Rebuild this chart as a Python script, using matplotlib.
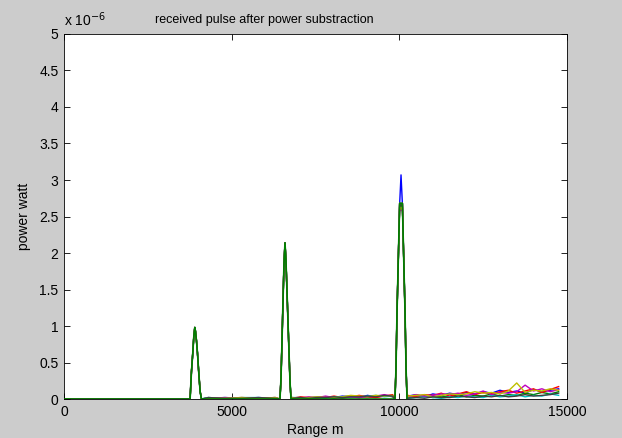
import matplotlib
matplotlib.use("Agg")
import matplotlib.pyplot as plt
from matplotlib.ticker import FormatStrFormatter

plt.rcParams['font.family'] = ['Liberation Sans', 'DejaVu Sans']

# sample positions (m) and power values (x 1e-6 W)
pulse1_x = [3760, 3800, 3840, 3870, 3900, 3920, 3950, 3980, 4020, 4060, 4100]
pulse1_p = [0, 0.37, 0.63, 0.85, 0.98, 0.93, 0.80, 0.63, 0.35, 0.10, 0]

pulse2_x = [6440, 6470, 6500, 6530, 6560, 6590, 6620, 6650, 6680, 6710, 6740, 6770]
pulse2_p = [0, 0.27, 0.78, 1.33, 1.85, 2.14, 1.88, 1.47, 1.05, 0.64, 0.23, 0]

pulse3_x = [9870, 9900, 9930, 9970, 10010, 10050, 10090, 10130, 10170, 10200, 10230]
pulse3_p = [0, 0.42, 1.18, 1.93, 2.68, 2.68, 2.68, 1.93, 1.18, 0.42, 0]
pulse3_peak = [3.07, 2.68, 2.60, 2.62, 2.58, 2.60, 2.64]  # per series

floor_x = [4300, 4800, 5300, 5800, 6300]
noise_a_x = [6800, 7050, 7300, 7550, 7800, 8050, 8300, 8550, 8800, 9050, 9300, 9550, 9800]
noise_b_x = [10250, 10500, 10750, 11000, 11250, 11500, 11750, 12000, 12250, 12500,
             12750, 13000, 13250, 13500, 13750, 14000, 14250, 14500, 14750]

floor_b = [0.01, 0.02, 0.01, 0.02, 0.01]
floor_g = [0.02, 0.01, 0.01, 0.01, 0.02]
floor_r = [0.01, 0.01, 0.02, 0.01, 0.01]
floor_c = [0.02, 0.01, 0.02, 0.02, 0.01]
floor_m = [0.01, 0.02, 0.01, 0.01, 0.02]
floor_y = [0.01, 0.01, 0.02, 0.01, 0.02]
floor_k = [0.02, 0.01, 0.01, 0.02, 0.01]

noise_a_b = [0.01, 0.02, 0.01, 0.03, 0.02, 0.02, 0.04, 0.03, 0.02, 0.05, 0.03, 0.04, 0.05]
noise_a_g = [0.02, 0.01, 0.02, 0.02, 0.03, 0.01, 0.03, 0.04, 0.03, 0.02, 0.04, 0.05, 0.03]
noise_a_r = [0.01, 0.03, 0.02, 0.01, 0.02, 0.04, 0.02, 0.03, 0.05, 0.03, 0.02, 0.04, 0.06]
noise_a_c = [0.02, 0.02, 0.01, 0.02, 0.01, 0.03, 0.03, 0.02, 0.03, 0.04, 0.05, 0.03, 0.04]
noise_a_m = [0.01, 0.01, 0.03, 0.02, 0.04, 0.02, 0.01, 0.03, 0.02, 0.03, 0.04, 0.06, 0.04]
noise_a_y = [0.02, 0.01, 0.02, 0.03, 0.02, 0.02, 0.03, 0.05, 0.04, 0.03, 0.05, 0.04, 0.05]
noise_a_k = [0.01, 0.02, 0.01, 0.02, 0.02, 0.03, 0.02, 0.03, 0.03, 0.04, 0.03, 0.05, 0.04]

noise_b_b = [0.04, 0.06, 0.03, 0.07, 0.05, 0.08, 0.06, 0.09, 0.07, 0.10, 0.08, 0.12, 0.09, 0.11, 0.08, 0.13, 0.10, 0.12, 0.14]
noise_b_g = [0.02, 0.03, 0.05, 0.02, 0.04, 0.03, 0.06, 0.03, 0.05, 0.04, 0.07, 0.04, 0.06, 0.05, 0.08, 0.06, 0.09, 0.07, 0.10]
noise_b_r = [0.05, 0.03, 0.06, 0.05, 0.08, 0.04, 0.07, 0.10, 0.06, 0.09, 0.07, 0.10, 0.12, 0.08, 0.11, 0.14, 0.09, 0.13, 0.17]
noise_b_c = [0.01, 0.02, 0.03, 0.02, 0.01, 0.03, 0.02, 0.04, 0.03, 0.02, 0.05, 0.03, 0.04, 0.06, 0.03, 0.05, 0.04, 0.07, 0.05]
noise_b_m = [0.03, 0.06, 0.04, 0.05, 0.07, 0.06, 0.08, 0.05, 0.07, 0.11, 0.06, 0.09, 0.08, 0.10, 0.19, 0.11, 0.14, 0.10, 0.13]
noise_b_y = [0.04, 0.05, 0.06, 0.03, 0.05, 0.07, 0.06, 0.07, 0.10, 0.08, 0.09, 0.07, 0.11, 0.22, 0.09, 0.12, 0.11, 0.14, 0.12]
noise_b_k = [0.01, 0.02, 0.01, 0.03, 0.02, 0.02, 0.04, 0.03, 0.02, 0.04, 0.03, 0.05, 0.03, 0.04, 0.06, 0.04, 0.05, 0.06, 0.08]

floors = [floor_b, floor_g, floor_r, floor_c, floor_m, floor_y, floor_k]
noise_a = [noise_a_b, noise_a_g, noise_a_r, noise_a_c, noise_a_m, noise_a_y, noise_a_k]
noise_b = [noise_b_b, noise_b_g, noise_b_r, noise_b_c, noise_b_m, noise_b_y, noise_b_k]

# old MATLAB color order
colors = [(0, 0, 1), (0, 0.5, 0), (1, 0, 0), (0, 0.75, 0.75),
          (0.75, 0, 0.75), (0.75, 0.75, 0), (0.25, 0.25, 0.25)]

fig = plt.figure(figsize=(6.22, 4.38), dpi=100, facecolor=(0.8, 0.8, 0.8))
ax = fig.add_axes([0.1029, 0.0890, 0.8087, 0.8334])

for i in range(7):
    p3 = list(pulse3_p)
    p3[5] = pulse3_peak[i]
    xs = [0] + pulse1_x + floor_x + pulse2_x + noise_a_x + pulse3_x + noise_b_x
    ps = [0] + pulse1_p + floors[i] + pulse2_p + noise_a[i] + p3 + noise_b[i]
    ax.plot(xs, ps, color=colors[i], lw=1.0)

# clean pulse train on top (green)
xs = [0] + pulse1_x + pulse2_x + pulse3_x
ps = [0] + pulse1_p + pulse2_p + pulse3_p
ax.plot(xs, ps, color=(0, 0.5, 0), lw=1.2, zorder=3)

ax.set_xlim(0, 15000)
ax.set_ylim(0, 5)
ax.set_xticks([0, 5000, 10000, 15000])
ax.set_yticks([0, 0.5, 1, 1.5, 2, 2.5, 3, 3.5, 4, 4.5, 5])
ax.yaxis.set_major_formatter(FormatStrFormatter('%g'))
ax.tick_params(direction='in', top=True, right=True, length=4, width=0.6,
               labelsize=10, pad=4)
for s in ax.spines.values():
    s.set_linewidth(0.6)

ax.set_title('received pulse after power substraction', fontsize=9,
             x=0.398, pad=8)
ax.set_xlabel('Range m', fontsize=10, labelpad=3)
ax.set_ylabel('power watt', fontsize=10, labelpad=6)
ax.text(0.0, 1.015, r'x 10$^{-6}$', transform=ax.transAxes, fontsize=10,
        ha='left', va='bottom')

fig.savefig('out.png', dpi=100, facecolor=fig.get_facecolor())
